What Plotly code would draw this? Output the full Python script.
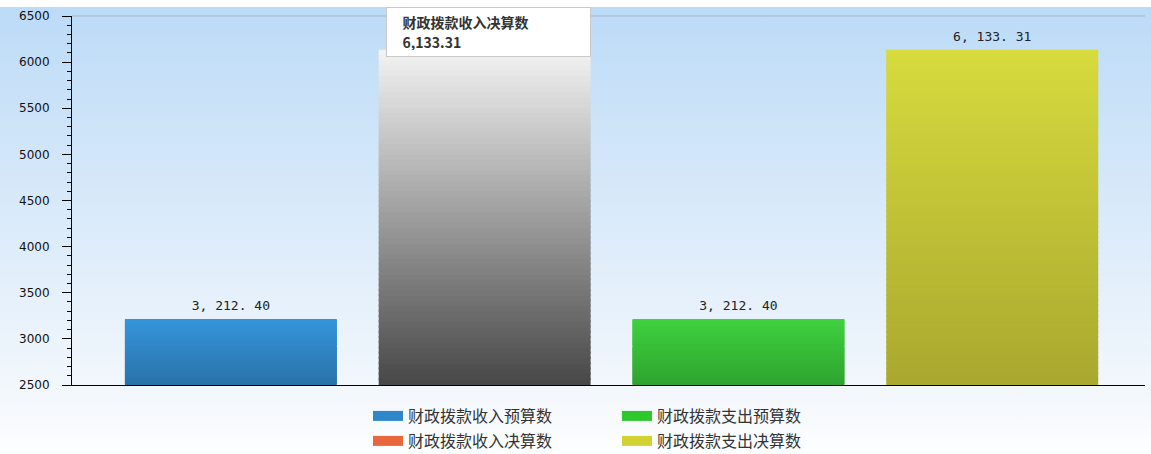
import base64
import plotly.graph_objects as go

# ---- data ----
series = ["财政拨款收入预算数", "财政拨款收入决算数", "财政拨款支出预算数", "财政拨款支出决算数"]
values = [3212.40, 6133.31, 3212.40, 6133.31]
y_ticks = [2500, 3000, 3500, 4000, 4500, 5000, 5500, 6000, 6500]

# ---- styles ----
legend_colors = ["#2f86c8", "#e8673c", "#2ec82e", "#d2d232"]
bar_top_colors = ["#3594da", "#f3f3f3", "#3fd13f", "#d7db3d"]
bar_bottom_colors = ["#2a72a8", "#474747", "#2ea32e", "#a9a82f"]
legend_rank = [1, 3, 2, 4]
legend_slot = ["legend", "legend2", "legend", "legend2"]
hover_index = 1
AXIS_MIN, AXIS_MAX = y_ticks[0], y_ticks[-1]
N_SEG = 64


def hex_rgb(h):
    h = h.lstrip("#")
    return [int(h[i:i + 2], 16) for i in (0, 2, 4)]


def mix(c0, c1, t):
    a, b = hex_rgb(c0), hex_rgb(c1)
    return "rgb({},{},{})".format(*[round(a[i] + (b[i] - a[i]) * t) for i in range(3)])


def fmt_label(v):
    return f"{v:,.2f}".replace(",", ", ").replace(".", ". ")


fig = go.Figure()

# gradient bars built from stacked slices of each value
for k in range(N_SEG):
    t = (k + 0.5) / N_SEG
    bases = [AXIS_MIN + (v - AXIS_MIN) * k / N_SEG for v in values]
    step = [(v - AXIS_MIN) / N_SEG for v in values]
    heights = [s * (1.35 if k < N_SEG - 1 else 1.0) for s in step]
    colors = [mix(bar_bottom_colors[i], bar_top_colors[i], t) for i in range(len(values))]
    fig.add_trace(go.Bar(
        x=series, y=heights, base=bases,
        marker=dict(color=colors, line=dict(width=0)),
        width=0.835, showlegend=False, hoverinfo="skip",
    ))

# value labels (the hovered bar's label is hidden under its tooltip)
labels = ["" if i == hover_index else fmt_label(v) for i, v in enumerate(values)]
fig.add_trace(go.Scatter(
    x=series, y=values, mode="markers+text",
    marker=dict(size=8, color="rgba(0,0,0,0)"),
    text=labels, textposition="top center",
    textfont=dict(family="DejaVu Sans Mono", size=13, color="#222"),
    showlegend=False, hoverinfo="skip", cliponaxis=False,
))

# legend entries
for i, s in enumerate(series):
    fig.add_trace(go.Scatter(
        x=[None], y=[None], mode="lines", name=s,
        line=dict(color=legend_colors[i], width=11),
        legend=legend_slot[i], legendrank=legend_rank[i],
    ))

svg = ('<svg xmlns="http://www.w3.org/2000/svg" width="100" height="100" viewBox="0 0 100 100" '
       'preserveAspectRatio="none"><defs><linearGradient id="g" x1="0" y1="0" x2="0" y2="1">'
       '<stop offset="0" stop-color="#bcdbf7"/><stop offset="0.85" stop-color="#f2f7fc"/>'
       '<stop offset="1" stop-color="#fdfeff"/></linearGradient></defs>'
       '<rect width="100" height="100" fill="url(#g)"/></svg>')
bg_src = "data:image/svg+xml;base64," + base64.b64encode(svg.encode()).decode()

W, H = 1151, 454
ML, MR, MT, MB = 72, 6, 16, 69
PW, PH = W - ML - MR, H - MT - MB

legend_common = dict(
    orientation="h", xanchor="left", yanchor="middle",
    entrywidth=204, entrywidthmode="pixels",
    font=dict(family="Noto Sans CJK SC", size=16, color="#333"),
    bgcolor="rgba(0,0,0,0)", itemclick=False, itemdoubleclick=False,
)
LEG_X = (378 - ML - 10) / PW

tip_name = series[hover_index]
tip_val = f"{values[hover_index]:,.2f}"
tip_text = ("<b><span style='font-size:14px'>&nbsp;&nbsp;&nbsp;" + tip_name + "</span></b><br>"
            "<b><span style='font-size:14px'>&nbsp;&nbsp;&nbsp;" + tip_val + "</span></b>")

fig.update_layout(
    width=W, height=H,
    margin=dict(l=ML, r=MR, t=MT, b=MB, pad=0, autoexpand=False),
    paper_bgcolor="white", plot_bgcolor="rgba(0,0,0,0)",
    barmode="overlay",
    showlegend=True,
    legend=dict(legend_common, x=LEG_X, y=-(416 - (H - MB)) / PH),
    legend2=dict(legend_common, x=LEG_X, y=-(441 - (H - MB)) / PH),
    xaxis=dict(
        type="category", range=[-0.626, 3.602],
        showticklabels=False, ticks="", showgrid=False, zeroline=False,
        showline=True, linecolor="black", linewidth=1,
    ),
    yaxis=dict(
        range=[AXIS_MIN, AXIS_MAX], tickvals=y_ticks,
        ticks="outside", ticklen=9, tickcolor="black", tickwidth=1,
        showline=True, linecolor="black", linewidth=1,
        showgrid=False, zeroline=False, ticklabelstandoff=10,
        tickfont=dict(family="DejaVu Sans", size=12, color="#111"),
        minor=dict(dtick=100, ticks="outside", ticklen=4, tickcolor="black", showgrid=False),
    ),
    images=[dict(
        source=bg_src, xref="paper", yref="paper",
        x=-ML / PW, y=(H - MB - 7) / PH, sizex=W / PW, sizey=(H - 7) / PH,
        xanchor="left", yanchor="top", sizing="stretch", layer="below",
    )],
    shapes=[dict(type="line", xref="paper", yref="paper", x0=0, x1=1, y0=1, y1=1,
                 line=dict(color="#a3b7cc", width=1))],
    annotations=[dict(
        xref="x", x=tip_name, yref="paper", y=(H - MB - 7) / PH,
        xanchor="center", yanchor="top", xshift=4,
        text=tip_text, align="left", valign="middle", showarrow=False,
        bgcolor="white", bordercolor="#c8c8c8", borderwidth=1, borderpad=6,
        width=191, height=36,
        font=dict(family="Noto Sans CJK SC", size=16, color="#333"),
    )],
)

fig.write_html(
    "out.html",
    config={"displayModeBar": False},
    post_script="document.body.style.margin='0';document.body.style.overflow='hidden';",
)
